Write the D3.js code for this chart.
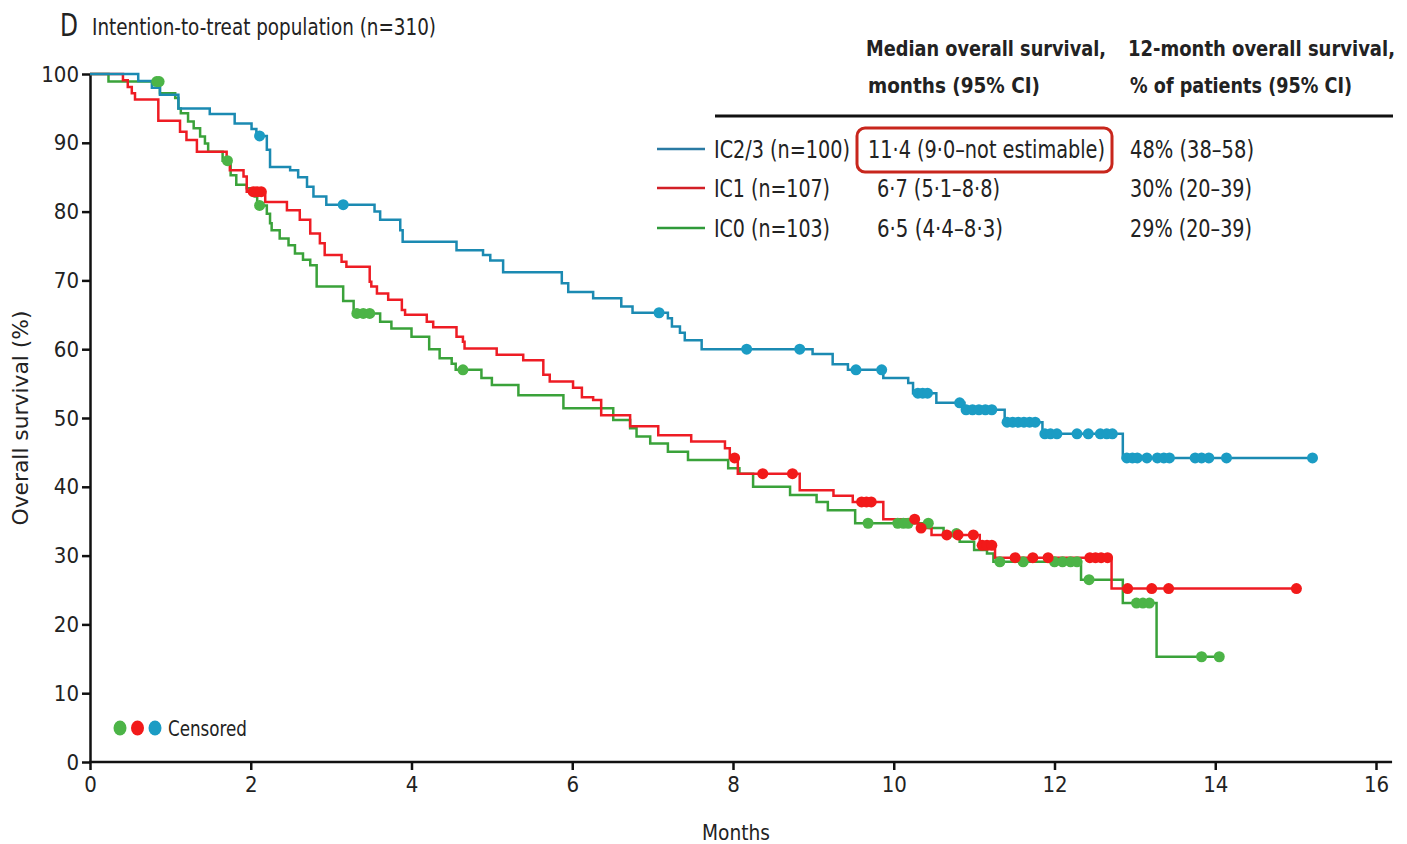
<!DOCTYPE html>
<html>
<head>
<meta charset="utf-8">
<script src="https://cdn.jsdelivr.net/npm/d3@7"></script>
<style>
  body { margin: 0; background: #fff; }
  text { font-family: "DejaVu Sans", sans-serif; font-stretch: condensed; fill: #222; }
</style>
</head>
<body>
<div id="chart"></div>
<script>
// data (months, % surviving after each drop; censor times)
var ic23Times = [0.60,0.77,0.87,1.10,1.49,1.80,2.01,2.07,2.20,2.24,2.49,2.59,2.70,2.78,2.94,3.54,3.61,3.86,3.89,4.56,4.89,4.98,5.14,5.87,5.95,6.26,6.61,6.75,7.19,7.24,7.34,7.40,7.61,8.99,9.24,9.43,9.87,10.18,10.24,10.53,10.88,11.38,11.85,12.85];
var ic23Surv  = [99,98,97,95,94.2,92.8,92,91,89,86.5,86,85,83.6,82.2,81,80,78.8,77.3,75.6,74.4,73.7,72.9,71.2,69.6,68.3,67.4,66.2,65.3,64.5,63.3,62.4,61.3,60,59.3,57.8,57,55.8,55.1,53.6,52.2,51.2,49.4,47.7,44.2];
var ic23Censored = [2.11,3.15,7.08,8.17,8.83,9.53,9.85,10.30,10.36,10.42,10.82,10.90,10.98,11.06,11.14,11.22,11.41,11.48,11.55,11.62,11.69,11.76,11.88,11.95,12.03,12.28,12.42,12.57,12.65,12.72,12.90,12.97,13.03,13.15,13.28,13.36,13.43,13.75,13.83,13.92,14.14,15.21];

var ic1Times = [0.41,0.47,0.52,0.56,0.85,1.12,1.20,1.33,1.70,1.74,1.91,1.95,2.18,2.45,2.61,2.74,2.86,2.92,3.13,3.19,3.48,3.50,3.57,3.71,3.88,3.92,4.19,4.27,4.56,4.64,4.66,5.06,5.39,5.64,5.72,6.01,6.12,6.26,6.36,6.72,7.07,7.48,7.90,7.96,8.06,8.83,9.25,9.49,9.87,10.30,10.47,11.07,11.26,12.71];
var ic1Surv  = [99.1,98.1,97.2,96.3,93.2,91.6,90.4,88.7,87.5,86.0,85.1,82.9,81.4,80.2,78.8,76.8,75.4,73.7,72.7,72.0,69.8,69.1,68.1,67.2,65.7,65.0,64.0,63.2,61.8,61.1,60.1,59.2,58.4,56.3,55.3,54.4,53.0,52.6,50.4,48.8,47.5,46.6,45.6,44.2,41.9,39.5,38.7,37.8,35.3,34.0,33.0,31.5,29.7,25.2];
var ic1Censored = [2.03,2.08,2.13,8.02,8.37,8.74,9.60,9.66,9.72,10.26,10.34,10.66,10.80,10.99,11.10,11.16,11.22,11.51,11.73,11.92,12.44,12.51,12.58,12.66,12.91,13.21,13.42,15.01];

var ic0Times = [0.23,0.87,1.06,1.10,1.13,1.22,1.29,1.37,1.43,1.47,1.65,1.75,1.82,1.95,2.05,2.08,2.20,2.24,2.26,2.36,2.47,2.55,2.65,2.74,2.82,3.15,3.28,3.61,3.75,4.00,4.22,4.35,4.50,4.55,4.87,5.00,5.33,5.89,6.51,6.72,6.80,6.97,7.19,7.44,7.94,8.08,8.25,8.71,9.04,9.18,9.52,10.45,10.62,10.82,11.00,11.16,11.24,12.33,12.85,13.27];
var ic0Surv  = [98.9,97.2,96.5,95.0,94.3,93.1,92.1,90.9,89.9,88.7,87.4,85.3,83.9,83.4,82.2,80.9,79.7,78.3,77.3,76.1,75.1,73.9,73.0,72.2,69.1,67.0,65.2,64.0,63.0,61.8,60.0,58.7,57.9,57.0,55.8,54.8,53.3,51.4,49.7,48.5,47.3,46.3,45.1,43.9,42.7,41.9,40.0,38.8,37.8,36.6,34.7,34.0,33.2,32.0,30.8,30.3,29.1,26.5,23.1,15.3];
var ic0Censored = [0.83,0.86,1.71,2.11,3.32,3.40,3.48,4.64,9.68,10.05,10.12,10.18,10.43,10.78,11.32,11.61,12.00,12.10,12.20,12.28,12.43,13.02,13.10,13.18,13.83,14.05];

var groupLabels = ["IC2/3 (n=100)", "IC1 (n=107)", "IC0 (n=103)"];
var medianLabels = ["11·4 (9·0–not estimable)", "6·7 (5·1–8·8)", "6·5 (4·4–8·3)"];
var yearLabels = ["48% (38–58)", "30% (20–39)", "29% (20–39)"];
var xTicks = [0, 2, 4, 6, 8, 10, 12, 14, 16];
var yTicks = [0, 10, 20, 30, 40, 50, 60, 70, 80, 90, 100];

var W = 1407, H = 844;

var svg = d3.select("#chart")
  .append("svg")
    .attr("width", W)
    .attr("height", H);

var x = d3.scaleLinear().domain([0, 16]).range([90, 1376]);
var y = d3.scaleLinear().domain([0, 100]).range([762, 74]);

// survival value at time t from a step curve
function survAt(times, surv, t) {
  var s = 100;
  for (var i = 0; i < times.length; i++) {
    if (times[i] <= t) s = surv[i];
  }
  return s;
}

function stepPoints(times, surv, censored) {
  var pts = [[0, 100]];
  times.forEach(function(t, i) { pts.push([t, surv[i]]); });
  var end = d3.max(censored.concat(times));
  pts.push([end, surv[surv.length - 1]]);
  return pts;
}

// squeeze a text to the width it has in the original (condensed face)
function fit(sel, len) {
  return sel.attr("textLength", len).attr("lengthAdjust", "spacingAndGlyphs");
}

var series = [
  {times: ic0Times, surv: ic0Surv, cens: ic0Censored, line: "#3aa23a", dot: "#4cb447"},
  {times: ic1Times, surv: ic1Surv, cens: ic1Censored, line: "#ee1c24", dot: "#f21a1a"},
  {times: ic23Times, surv: ic23Surv, cens: ic23Censored, line: "#1b8ab2", dot: "#1b9cc4"}
];

var stepLine = d3.line()
  .x(function(d) { return x(d[0]); })
  .y(function(d) { return y(d[1]); })
  .curve(d3.curveStepAfter);

// axes
var yAxis = svg.append("g")
  .attr("transform", "translate(" + x(0) + ",0)")
  .call(d3.axisLeft(y).tickValues(yTicks).tickSize(8).tickSizeOuter(0));
yAxis.select(".domain").attr("stroke", "#111").attr("stroke-width", 2.5);
yAxis.selectAll(".tick line").attr("stroke", "#111").attr("stroke-width", 2.5);
yAxis.selectAll(".tick text")
  .attr("x", -11)
  .style("font-size", "22px")
  .style("font-family", "DejaVu Sans, sans-serif")
  .style("font-stretch", "condensed")
  .attr("fill", "#222");

var xAxis = svg.append("g")
  .attr("transform", "translate(0," + y(0) + ")")
  .call(d3.axisBottom(x).tickValues(xTicks).tickSize(8).tickSizeOuter(0));
xAxis.select(".domain").remove();
xAxis.selectAll(".tick line").attr("stroke", "#111").attr("stroke-width", 2.5);
xAxis.selectAll(".tick text")
  .attr("y", 14)
  .style("font-size", "22px")
  .style("font-family", "DejaVu Sans, sans-serif")
  .style("font-stretch", "condensed")
  .attr("fill", "#222");

svg.append("line")
  .attr("x1", x(0) - 1).attr("x2", x(16.2))
  .attr("y1", y(0)).attr("y2", y(0))
  .attr("stroke", "#111").attr("stroke-width", 2.5);

// curves
series.forEach(function(s) {
  svg.append("path")
    .datum(stepPoints(s.times, s.surv, s.cens))
    .attr("d", stepLine)
    .attr("fill", "none")
    .attr("stroke", s.line)
    .attr("stroke-width", 2.5);
});

series.forEach(function(s) {
  svg.append("g").selectAll("circle")
    .data(s.cens)
    .enter().append("circle")
      .attr("cx", function(d) { return x(d); })
      .attr("cy", function(d) { return y(survAt(s.times, s.surv, d)); })
      .attr("r", 5.5)
      .attr("fill", s.dot);
});

// axis titles
fit(svg.append("text")
  .attr("transform", "translate(28," + y(50) + ") rotate(-90)")
  .style("text-anchor", "middle")
  .style("font-size", "22px")
  .text("Overall survival (%)"), 215);

fit(svg.append("text")
  .attr("x", 702).attr("y", 840)
  .style("font-size", "22px")
  .text("Months"), 68);

// panel title
fit(svg.append("text")
  .attr("x", 60).attr("y", 36)
  .style("font-size", "32px")
  .text("D"), 18);
fit(svg.append("text")
  .attr("x", 92).attr("y", 35)
  .style("font-size", "23px")
  .text("Intention-to-treat population (n=310)"), 344);

// table
var colMedian = 866, colYear = 1128;
var headers = [
  ["Median overall survival,", colMedian, 56, 240],
  ["months (95% CI)", colMedian + 2, 93, 172],
  ["12-month overall survival,", colYear, 56, 267],
  ["% of patients (95% CI)", colYear + 2, 93, 222]
];
headers.forEach(function(h) {
  fit(svg.append("text").attr("x", h[1]).attr("y", h[2])
    .style("font-size", "21.5px").style("font-weight", "bold").text(h[0]), h[3]);
});

svg.append("line")
  .attr("x1", 715).attr("x2", 1393)
  .attr("y1", 116).attr("y2", 116)
  .attr("stroke", "#111").attr("stroke-width", 3);

var rowY = [149, 188, 228];
var groupW = [136, 116, 116], medianW = [237, 123, 126], yearW = [124, 122, 122];
var legendColors = ["#2a7aa3", "#d21f26", "#2f9a3a"];
rowY.forEach(function(ry, i) {
  svg.append("line")
    .attr("x1", 657).attr("x2", 705)
    .attr("y1", ry).attr("y2", ry)
    .attr("stroke", legendColors[i]).attr("stroke-width", 2.5);
  fit(svg.append("text").attr("x", 714).attr("y", ry).attr("dy", "0.36em")
    .style("font-size", "24px").text(groupLabels[i]), groupW[i]);
  fit(svg.append("text").attr("x", i === 0 ? 868 : 877).attr("y", ry).attr("dy", "0.36em")
    .style("font-size", "24px").text(medianLabels[i]), medianW[i]);
  fit(svg.append("text").attr("x", 1130).attr("y", ry).attr("dy", "0.36em")
    .style("font-size", "24px").text(yearLabels[i]), yearW[i]);
});

svg.append("rect")
  .attr("x", 857).attr("y", 128)
  .attr("width", 255).attr("height", 44)
  .attr("rx", 8).attr("ry", 8)
  .attr("fill", "none")
  .attr("stroke", "#c8261c")
  .attr("stroke-width", 3);

// censored legend
var censColors = ["#4cb447", "#f21a1a", "#1b9cc4"];
censColors.forEach(function(c, i) {
  svg.append("ellipse")
    .attr("cx", 120 + i * 17.5).attr("cy", 728)
    .attr("rx", 6.5).attr("ry", 7.5)
    .attr("fill", c);
});
fit(svg.append("text")
  .attr("x", 168).attr("y", 728).attr("dy", "0.36em")
  .style("font-size", "22px")
  .text("Censored"), 79);
</script>
</body>
</html>
